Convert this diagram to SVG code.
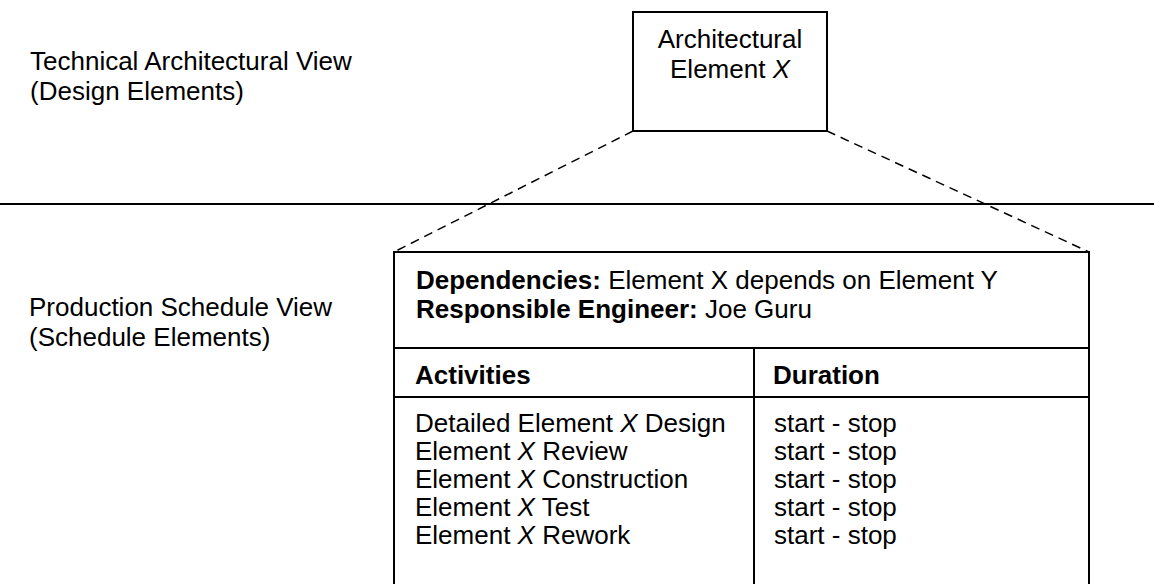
<svg xmlns="http://www.w3.org/2000/svg" width="1154" height="584" viewBox="0 0 1154 584">
<style>
text{font-family:"Liberation Sans",Arial,sans-serif;font-size:26px;fill:#000}
.b{font-weight:bold}
.i{font-style:italic}
.box{fill:#fff;stroke:#000;stroke-width:2}
.ln{stroke:#000;stroke-width:2;fill:none}
.dash{stroke:#000;stroke-width:1.5;stroke-dasharray:9 6;fill:none}
</style>
<rect width="1154" height="584" fill="#fff"/>
<g id="view-labels">
<text x="30" y="70">Technical Architectural View</text>
<text x="30" y="100">(Design Elements)</text>
<text x="29" y="316">Production Schedule View</text>
<text x="29" y="346">(Schedule Elements)</text>
</g>
<line id="separator" class="ln" x1="0" y1="204" x2="1154" y2="204"/>
<g id="connectors">
<line class="dash" x1="633" y1="131" x2="394" y2="252"/>
<line class="dash" x1="827" y1="131" x2="1089" y2="252"/>
</g>
<g id="node-architectural-element">
<rect class="box" x="633" y="12" width="194" height="119"/>
<text x="730" y="48" text-anchor="middle">Architectural</text>
<text x="730" y="78" text-anchor="middle">Element <tspan class="i">X</tspan></text>
</g>
<g id="node-schedule-element">
<rect class="box" x="394" y="252" width="695" height="345"/>
<line class="ln" x1="394" y1="348" x2="1089" y2="348"/>
<line class="ln" x1="394" y1="397" x2="1089" y2="397"/>
<line class="ln" x1="754" y1="348" x2="754" y2="597"/>
<text x="416" y="289"><tspan class="b">Dependencies:</tspan> Element X depends on Element Y</text>
<text x="416" y="318"><tspan class="b">Responsible Engineer:</tspan> Joe Guru</text>
<text x="415" y="384" class="b">Activities</text>
<text x="773" y="384" class="b">Duration</text>
<text x="415" y="432">Detailed Element <tspan class="i">X</tspan> Design</text>
<text x="415" y="460">Element <tspan class="i">X</tspan> Review</text>
<text x="415" y="488">Element <tspan class="i">X</tspan> Construction</text>
<text x="415" y="516">Element <tspan class="i">X</tspan> Test</text>
<text x="415" y="544">Element <tspan class="i">X</tspan> Rework</text>
<text x="774" y="432">start - stop</text>
<text x="774" y="460">start - stop</text>
<text x="774" y="488">start - stop</text>
<text x="774" y="516">start - stop</text>
<text x="774" y="544">start - stop</text>
</g>
</svg>
